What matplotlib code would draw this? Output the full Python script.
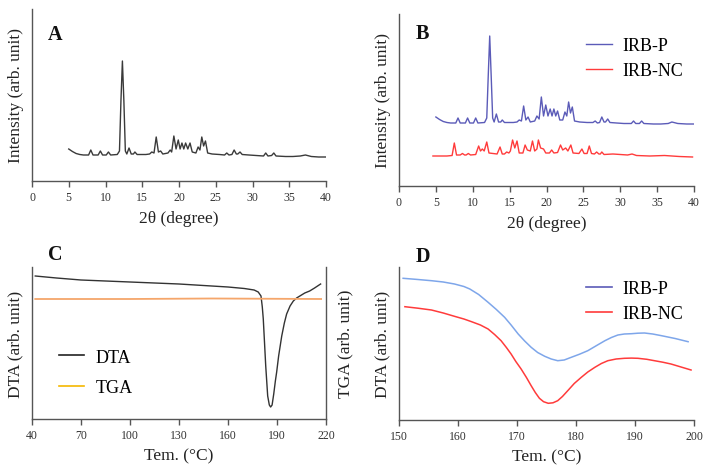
import matplotlib
matplotlib.use('Agg')
import matplotlib.pyplot as plt
from matplotlib.lines import Line2D

plt.rcParams['font.family'] = ['Liberation Serif', 'DejaVu Serif']

# ---- A: XRD of raw drug (2theta, intensity) ----
a_x = [5.0, 5.5, 6.0, 6.5, 7.0, 7.7, 8.0, 8.3, 9.0, 9.3, 9.6, 10.1, 10.4, 10.7,
       11.6, 11.9, 12.1, 12.3, 12.5, 12.7, 12.9, 13.2, 13.5, 13.8, 14.0, 14.3,
       15.5, 16.0, 16.3, 16.6, 16.9, 17.2, 17.5, 17.8, 18.5, 18.8, 19.0, 19.3,
       19.6, 19.9, 20.15, 20.4, 20.65, 20.9, 21.2, 21.5, 21.8, 22.3, 22.6, 22.85,
       23.1, 23.35, 23.6, 23.9, 24.5, 25.5, 26.2, 26.5, 26.8, 27.2, 27.5, 27.8,
       28.0, 28.3, 28.6, 29.5, 30.5, 31.5, 31.8, 32.1, 32.6, 32.9, 33.2, 34.5,
       35.5, 36.5, 37.2, 38.0, 39.0, 40.0]
a_y = [32, 29.5, 27.5, 26.5, 26, 26, 31, 26, 26, 30, 26, 26, 29, 26,
       26.5, 30, 80, 120, 80, 30, 27, 33, 27, 27, 29, 26.5,
       26.5, 27, 29, 28, 44, 29, 30, 27, 28, 31, 29, 45,
       32, 41, 32, 38, 32, 38, 32, 38, 29, 28, 34, 31,
       44, 35, 40, 28, 27, 26.5, 26, 28, 26, 26.5, 31, 27,
       27, 29, 26.5, 26, 25.5, 25, 28, 25, 25.5, 28, 25, 24.5,
       24.5, 25, 26, 24.5, 24, 24]

# ---- B: IRB-P and IRB-NC ----
bp_x = [5.0, 5.5, 6.0, 6.5, 7.0, 7.7, 8.0, 8.3, 9.0, 9.3, 9.6, 10.1, 10.4, 10.7,
        11.6, 11.9, 12.1, 12.3, 12.5, 12.7, 12.9, 13.2, 13.5, 13.8, 14.0, 14.3,
        15.5, 16.0, 16.3, 16.6, 16.9, 17.2, 17.5, 17.8, 18.4, 18.7, 19.0, 19.3,
        19.6, 19.9, 20.2, 20.5, 20.75, 21.0, 21.25, 21.5, 21.8, 22.2, 22.5, 22.75,
        23.0, 23.25, 23.5, 23.8, 24.5, 25.5, 26.3, 26.6, 26.9, 27.2, 27.5, 27.8,
        28.0, 28.3, 28.6, 29.5, 30.5, 31.5, 31.8, 32.1, 32.6, 32.9, 33.2, 34.5,
        35.5, 36.5, 37.0, 37.8, 39.0, 40.0]
bp_y = [69, 66.5, 64.5, 63.5, 63, 63, 68, 63, 63, 68, 63, 63, 68, 63,
        63.5, 68, 110, 150, 110, 68, 64, 72, 64, 64, 66, 63.5,
        63.5, 64, 66, 65, 80, 66, 69, 64, 65, 70, 67, 89,
        70, 81, 70, 77, 70, 77, 70, 75, 66, 66, 74, 70,
        84, 73, 79, 65, 64, 63.5, 63.5, 65, 63, 63.5, 69, 64,
        64, 67, 63.5, 63, 62.5, 62.5, 65, 62.5, 62.5, 65, 62.5, 62,
        62, 62.5, 64, 62.5, 62, 62]

bn_x = [4.6, 6.5, 7.2, 7.5, 7.8, 8.3, 8.6, 8.9, 9.1, 9.4, 9.7, 10.4, 10.8, 11.05,
        11.3, 11.55, 11.9, 12.2, 13.3, 13.7, 14.0, 14.3, 14.6, 14.9, 15.1, 15.4,
        15.7, 16.0, 16.3, 16.8, 17.1, 17.4, 17.8, 18.1, 18.4, 18.7, 18.9, 19.2,
        19.6, 19.9, 20.4, 20.7, 21.0, 21.5, 21.9, 22.2, 22.6, 22.9, 23.3, 23.6,
        24.4, 24.8, 25.1, 25.5, 25.8, 26.1, 26.5, 26.8, 27.1, 27.3, 27.5, 27.8,
        29.0, 30.0, 31.0, 31.6, 32.2, 34.0, 36.0, 38.0, 39.8]
bn_y = [30, 30, 30.5, 43, 31, 31, 32.5, 31, 31, 32.5, 31, 31.5, 40, 35,
        37, 35, 44, 33, 32, 39, 32, 32, 34, 33, 35, 46,
        38, 45, 33, 33, 41, 36, 35, 45, 35, 37, 46, 38,
        37, 33, 33, 36, 33, 33.5, 41, 36, 38, 35, 41, 33,
        32.5, 37, 32.5, 32.5, 40, 32.5, 32, 34, 32, 32, 34, 31.5,
        32, 31.5, 31, 32, 30.5, 30, 30.5, 29.5, 29]

# ---- C: DTA / TGA ----
c_t = [42, 55, 70, 85, 100, 115, 130, 145, 160, 170, 176, 178.5, 180.2, 181.0,
       181.6, 182.4, 183.1, 184.3, 185.3, 186.1, 187.0, 188.0, 189.0, 189.8,
       191.0, 192.9, 194.5, 195.9, 198.0, 200.0, 202.0, 204.0, 207.0, 210.0,
       213.0, 216.7]
c_dta = [143, 141, 139, 138, 137, 136, 135, 133.5, 132, 130.5, 129, 127, 123, 112,
         100, 75, 53, 23, 14, 12, 14, 25, 38, 47,
         63, 83, 96, 105, 113, 118, 121, 123, 126, 128,
         131, 135]
c_tga_t = [42, 100, 150, 217]
c_tga = [120, 120, 120.5, 120]

# ---- D: DTA zoom 150-200 ----
dp_t = [150.7, 153.0, 155.5, 157.5, 159.4, 161.0, 162.0, 163.5, 165.1, 166.5,
        167.9, 169.0, 170.2, 171.3, 172.4, 173.5, 174.7, 175.8, 176.9, 178.0,
        179.2, 180.6, 182.0, 183.5, 184.9, 186.0, 187.1, 188.2, 189.4, 190.5,
        191.6, 193.0, 194.5, 196.8, 199.0]
dp_y = [141.7, 140.6, 139.3, 138, 136, 133.5, 131, 125.5, 117.7, 110.5,
        102.7, 95, 86, 79, 72.7, 67.5, 63.7, 61, 59.3, 60,
        62.7, 65.8, 69.3, 74.5, 79.3, 82.5, 85, 86, 86.3, 86.8,
        87, 86, 84.3, 81.5, 78.3]
dn_t = [151.0, 153.2, 155.5, 157.5, 159.4, 161.0, 162.3, 163.8, 165.1, 166.2,
        167.3, 168.2, 169.0, 169.8, 170.7, 171.6, 172.4, 173.1, 173.8, 174.5,
        175.3, 176.1, 176.9, 177.7, 178.6, 179.7, 180.9, 182.0, 183.2, 184.3,
        185.4, 186.8, 188.2, 189.4, 190.5, 192.0, 193.3, 194.7, 196.1, 197.8, 199.5]
dn_y = [113.3, 111.8, 110, 107, 103.7, 101, 98.3, 95, 91, 85.5,
        79.3, 72.5, 66, 58.5, 51, 42.5, 34.3, 27.5, 21.7, 18.3,
        16.7, 17.2, 19.3, 23.5, 29.3, 36.5, 42.7, 48, 52.7, 56.5,
        59.3, 61, 61.7, 61.9, 61.7, 60.7, 59.3, 57.8, 56, 53, 50]

W, H = 711, 477
fig = plt.figure(figsize=(W / 100, H / 100), dpi=100)


def box(l, r, t, b):
    # pixel box -> figure fraction
    return [l / W, (H - b) / H, (r - l) / W, (b - t) / H]


def style(ax, right=False):
    for s in ['top', 'right']:
        ax.spines[s].set_visible(False)
    if right:
        ax.spines['right'].set_visible(True)
    for s in ax.spines.values():
        s.set_color('#555555')
        s.set_linewidth(1.0)
    ax.set_yticks([])
    ax.tick_params(axis='x', direction='out', length=4, width=1, colors='#555555',
                   labelsize=8.5, labelcolor='#333333', pad=3)


lab = dict(fontsize=12.5, color='#222222')
letter = dict(fontsize=14.5, fontweight='bold', color='#111111')
leg = dict(frameon=False, fontsize=13, handlelength=1.4, handletextpad=0.6)
blue_d, red = '#5b5bb8', '#ff3b3b'

# A
ax = fig.add_axes(box(32, 326, 10, 182))
ax.plot(a_x, a_y, color='#3a3a3a', lw=1.0)
ax.set_xlim(0, 40)
ax.set_ylim(0, 172)
ax.set_xticks(range(0, 41, 5))
style(ax)
ax.set_xlabel('2θ (degree)', labelpad=5, **lab)
ax.set_ylabel('Intensity (arb. unit)', labelpad=6, **lab)
ax.text(0.08, 0.855, 'A', transform=ax.transAxes, ha='center', va='center', **letter)

# B
ax = fig.add_axes(box(399, 694, 15, 187))
ax.plot(bp_x, bp_y, color=blue_d, lw=1.0, label='IRB-P')
ax.plot(bn_x, bn_y, color=red, lw=1.0, label='IRB-NC')
ax.set_xlim(0, 40)
ax.set_ylim(0, 172)
ax.set_xticks(range(0, 41, 5))
style(ax)
ax.set_xlabel('2θ (degree)', labelpad=5, **lab)
ax.set_ylabel('Intensity (arb. unit)', labelpad=6, **lab)
ax.text(0.08, 0.89, 'B', transform=ax.transAxes, ha='center', va='center', **letter)
ax.legend(loc='upper left', bbox_to_anchor=(0.58, 0.96), labelspacing=0.45, **leg)

# C
ax = fig.add_axes(box(32, 326, 268, 420))
ax.plot(c_t, c_dta, color='#333333', lw=1.0)
ax.set_xlim(40, 220)
ax.set_ylim(0, 152)
ax.set_xticks(range(40, 221, 30))
style(ax, right=True)
ax.set_xlabel('Tem. (°C)', labelpad=5, **lab)
ax.set_ylabel('DTA (arb. unit)', labelpad=6, **lab)
ax.text(0.078, 1.085, 'C', transform=ax.transAxes, ha='center', va='center',
        clip_on=False, **letter)
ax2 = ax.twinx()
ax2.plot(c_tga_t, c_tga, color='#f5a66b', lw=1.3)
ax2.set_ylim(0, 152)
ax2.set_yticks([])
for s in ax2.spines.values():
    s.set_visible(False)
ax2.set_ylabel('TGA (arb. unit)', labelpad=8, **lab)
hands = [Line2D([], [], color='#222222', lw=1.2), Line2D([], [], color='#f5b800', lw=1.2)]
ax.legend(hands, ['DTA', 'TGA'], loc='upper left', bbox_to_anchor=(0.037, 0.57),
          labelspacing=0.75, **leg)

# D
ax = fig.add_axes(box(399, 694, 268, 421))
ax.plot(dp_t, dp_y, color='#7ea6ea', lw=1.1)
ax.plot(dn_t, dn_y, color=red, lw=1.1)
ax.set_xlim(150, 200)
ax.set_ylim(0, 153)
ax.set_xticks(range(150, 201, 10))
style(ax)
ax.set_xlabel('Tem. (°C)', labelpad=5, **lab)
ax.set_ylabel('DTA (arb. unit)', labelpad=6, **lab)
ax.text(0.08, 1.07, 'D', transform=ax.transAxes, ha='center', va='center',
        clip_on=False, **letter)
hands = [Line2D([], [], color=blue_d, lw=1.2), Line2D([], [], color=red, lw=1.2)]
ax.legend(hands, ['IRB-P', 'IRB-NC'], loc='upper left', bbox_to_anchor=(0.58, 1.02),
          labelspacing=0.45, **leg)

fig.savefig('out.png', dpi=100)
